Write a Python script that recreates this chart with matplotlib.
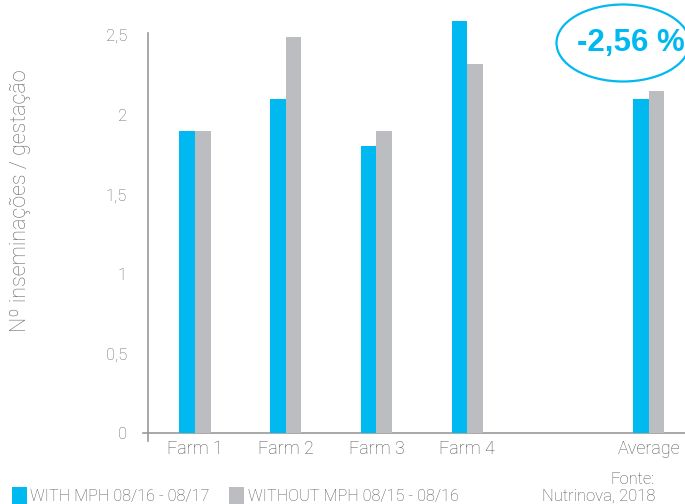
import matplotlib
matplotlib.use("Agg")
import matplotlib.pyplot as plt
from matplotlib.patches import Ellipse, Rectangle
import numpy as np

categories = ["Farm 1", "Farm 2", "Farm 3", "Farm 4", "Average"]
positions = [0, 1, 2, 3, 5]
with_mph = [1.9, 2.1, 1.8, 2.59, 2.1]
without_mph = [1.9, 2.49, 1.9, 2.32, 2.15]
yticks = [0, 0.5, 1, 1.5, 2, 2.5]
ytick_labels = ["0", "0,5", "1", "1,5", "2", "2,5"]
series_labels = ["WITH MPH 08/16 - 08/17", "WITHOUT MPH 08/15 - 08/16"]
note = "-2,56 %"

BLUE = "#00B9F0"
GRAY = "#BCBDC1"
TXT = "#666666"
FONT = ["Roboto", "DejaVu Sans"]

plt.rcParams["font.family"] = FONT
fig = plt.figure(figsize=(6.85, 5.04), dpi=100)
ax = fig.add_axes([0.216, 0.1409, 0.784, 0.7928])

w = 0.172
x = np.array(positions, dtype=float)
ax.bar(x - w / 2, with_mph, width=w, color=BLUE, clip_on=False, zorder=3)
ax.bar(x + w / 2, without_mph, width=w, color=GRAY, clip_on=False, zorder=3)

ax.set_xlim(-0.518, 5.40)
ax.set_ylim(0, 2.51)
ax.set_yticks(yticks)
ax.set_yticklabels(ytick_labels, fontsize=12, color=TXT, fontweight="light")
ax.set_xticks(positions)
ax.set_xticklabels(categories, fontsize=13, color="#555555", fontweight="light")
ax.tick_params(axis="y", length=0, pad=15)
ax.tick_params(axis="x", length=0, pad=5)
for s in ["top", "right"]:
    ax.spines[s].set_visible(False)
for s in ["left", "bottom"]:
    ax.spines[s].set_color("#9a9a9a")
    ax.spines[s].set_linewidth(1.2)

# small cross tick at origin
ax.plot([-0.0085, 0], [0, 0], transform=ax.transAxes, color="#9a9a9a", lw=1.2, clip_on=False)
ax.plot([0, 0], [-0.02, 0], transform=ax.transAxes, color="#9a9a9a", lw=1.2, clip_on=False)

fig.text(21 / 685, 1 - 201 / 504, "Nº inseminações / gestação", rotation=90, ha="center", va="center",
         fontsize=15.5, color=TXT, fontweight="light")

# ellipse note
ell = Ellipse((623 / 685, 1 - 43 / 504), 133 / 685, 77 / 504, transform=fig.transFigure,
              fill=False, edgecolor=BLUE, lw=1.6)
fig.add_artist(ell)
fig.text(631 / 685, 1 - 43 / 504, note, ha="center", va="center", fontsize=22.5,
         fontweight="bold", color=BLUE, family=["Liberation Sans", "DejaVu Sans"])

# legend
fig.add_artist(Rectangle((12 / 685, 0), 15 / 685, 17 / 504, transform=fig.transFigure,
                         color=BLUE, lw=0))
fig.text(30 / 685, 7 / 504, series_labels[0], fontsize=11.7, color="#555555",
         fontweight="light", va="center", ha="left")
fig.add_artist(Rectangle((229 / 685, 0), 15 / 685, 17 / 504, transform=fig.transFigure,
                         color=GRAY, lw=0))
fig.text(248 / 685, 7 / 504, series_labels[1], fontsize=11.7, color="#555555",
         fontweight="light", va="center", ha="left")

fig.text(655 / 685, 1 - 480 / 504, "Fonte:", fontsize=12, color="#555555",
         fontweight="light", va="center", ha="right")
fig.text(655 / 685, 1 - 496 / 504, "Nutrinova, 2018", fontsize=12, color="#555555",
         fontweight="light", va="center", ha="right")

fig.savefig("out.png", dpi=100)
